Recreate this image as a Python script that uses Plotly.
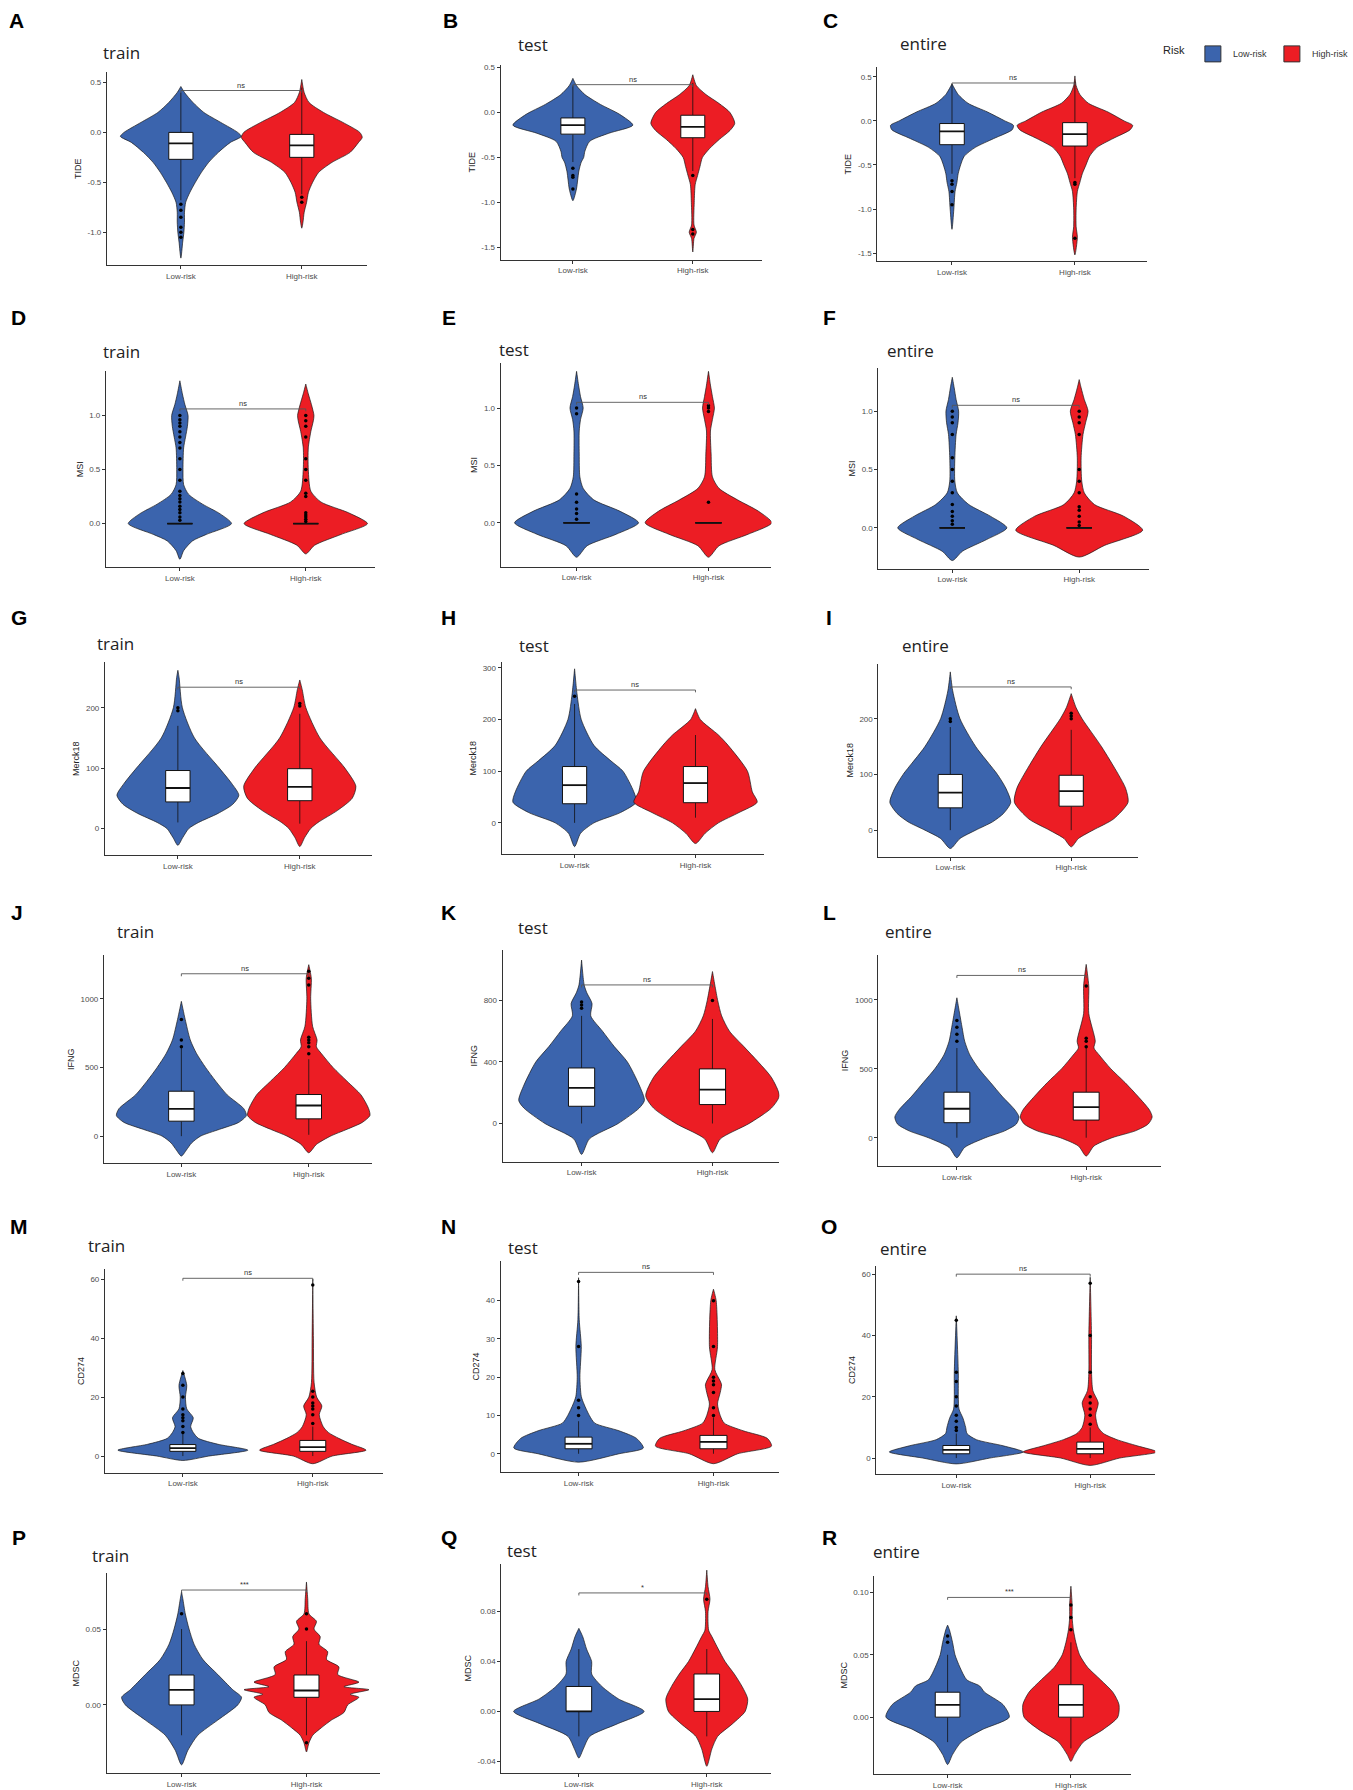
import plotly.graph_objects as go

W, H = 1353, 1790
BLUE = "#3B64AD"
RED = "#EC1D24"
CATS = ["Low-risk", "High-risk"]

# ---------------- data ----------------
# violin profiles: value levels (y) and half-widths (w, in category units)
# boxes: [lower whisker, q1, median, q3, upper whisker]
A_low_y = [-1.26, -1.1, -1.0, -0.9, -0.8, -0.7, -0.6, -0.5, -0.4, -0.3, -0.2, -0.1, -0.04, 0.0, 0.1, 0.2, 0.3, 0.4, 0.46]
A_low_w = [0, 0.015, 0.025, 0.03, 0.03, 0.04, 0.075, 0.12, 0.17, 0.23, 0.31, 0.41, 0.5, 0.47, 0.33, 0.19, 0.1, 0.03, 0]
A_high_y = [-0.96, -0.9, -0.8, -0.7, -0.6, -0.5, -0.4, -0.3, -0.2, -0.1, -0.05, 0.0, 0.1, 0.2, 0.3, 0.4, 0.53]
A_high_w = [0, 0.01, 0.02, 0.04, 0.055, 0.09, 0.14, 0.25, 0.40, 0.47, 0.5, 0.48, 0.34, 0.18, 0.06, 0.02, 0]
A_low_box = [-0.68, -0.27, -0.11, 0.0, 0.40]
A_high_box = [-0.62, -0.25, -0.13, -0.02, 0.45]
A_low_out = [-0.72, -0.78, -0.85, -0.95, -1.0, -1.05]
A_high_out = [-0.65, -0.7]
A_sig = ["ns", 0.42]

B_low_y = [-0.98, -0.85, -0.75, -0.65, -0.55, -0.5, -0.43, -0.32, -0.23, -0.14, -0.02, 0.09, 0.2, 0.3, 0.38]
B_low_w = [0, 0.03, 0.04, 0.05, 0.07, 0.09, 0.1, 0.14, 0.3, 0.5, 0.39, 0.23, 0.1, 0.03, 0]
B_high_y = [-1.55, -1.4, -1.33, -1.25, -1.0, -0.8, -0.7, -0.6, -0.5, -0.4, -0.3, -0.2, -0.12, 0.0, 0.1, 0.2, 0.3, 0.42]
B_high_w = [0, 0.01, 0.03, 0.01, 0.012, 0.02, 0.04, 0.06, 0.08, 0.14, 0.22, 0.31, 0.35, 0.31, 0.22, 0.11, 0.03, 0]
B_low_box = [-0.55, -0.24, -0.14, -0.06, 0.30]
B_high_box = [-0.65, -0.28, -0.16, -0.03, 0.33]
B_low_out = [-0.62, -0.7, -0.72, -0.85]
B_high_out = [-0.7, -1.3, -1.35]
B_sig = ["ns", 0.31]

C_low_y = [-1.23, -1.0, -0.8, -0.7, -0.6, -0.5, -0.4, -0.3, -0.2, -0.1, -0.05, 0.0, 0.1, 0.2, 0.3, 0.42]
C_low_w = [0, 0.015, 0.025, 0.04, 0.05, 0.07, 0.1, 0.19, 0.34, 0.49, 0.5, 0.43, 0.29, 0.13, 0.05, 0]
C_high_y = [-1.52, -1.32, -1.2, -1.0, -0.8, -0.7, -0.6, -0.5, -0.4, -0.3, -0.2, -0.1, -0.05, 0.0, 0.1, 0.2, 0.3, 0.4, 0.51]
C_high_w = [0, 0.02, 0.01, 0.01, 0.02, 0.04, 0.06, 0.09, 0.12, 0.18, 0.31, 0.45, 0.47, 0.40, 0.27, 0.11, 0.04, 0.01, 0]
C_low_box = [-0.6, -0.27, -0.12, -0.03, 0.42]
C_high_box = [-0.65, -0.285, -0.15, -0.02, 0.45]
C_low_out = [-0.68, -0.72, -0.8, -0.95]
C_high_out = [-0.7, -0.72, -1.33]
C_sig = ["ns", 0.43]

D_low_y = [-0.33, -0.25, -0.16, -0.1, 0.0, 0.09, 0.18, 0.27, 0.36, 0.5, 0.7, 0.8, 0.9, 1.0, 1.1, 1.2, 1.32]
D_low_w = [0, 0.03, 0.1, 0.21, 0.41, 0.32, 0.18, 0.07, 0.03, 0.025, 0.03, 0.045, 0.06, 0.065, 0.04, 0.02, 0]
D_high_y = [-0.28, -0.2, -0.1, 0.0, 0.1, 0.2, 0.3, 0.5, 0.7, 0.85, 0.95, 1.0, 1.1, 1.2, 1.29]
D_high_w = [0, 0.07, 0.28, 0.49, 0.34, 0.12, 0.04, 0.02, 0.02, 0.04, 0.06, 0.065, 0.045, 0.02, 0]
D_low_box = [0, 0, 0, 0, 0]
D_high_box = [0, 0, 0, 0, 0]
D_low_out = [0.03, 0.06, 0.1, 0.13, 0.16, 0.2, 0.23, 0.26, 0.3, 0.4, 0.5, 0.6, 0.7, 0.75, 0.8, 0.85, 0.9, 0.93, 0.96, 1.0]
D_high_out = [0.02, 0.04, 0.06, 0.08, 0.1, 0.25, 0.28, 0.4, 0.5, 0.6, 0.8, 0.9, 0.95, 1.0]
D_sig = ["ns", 1.06]

E_low_y = [-0.3, -0.2, -0.1, 0.0, 0.1, 0.2, 0.3, 0.4, 0.6, 0.8, 0.9, 1.0, 1.1, 1.2, 1.32]
E_low_w = [0, 0.08, 0.3, 0.47, 0.33, 0.13, 0.05, 0.025, 0.02, 0.02, 0.03, 0.05, 0.03, 0.015, 0]
E_high_y = [-0.3, -0.2, -0.1, 0.0, 0.1, 0.2, 0.3, 0.4, 0.6, 0.8, 0.9, 1.0, 1.1, 1.2, 1.32]
E_high_w = [0, 0.08, 0.3, 0.48, 0.38, 0.22, 0.08, 0.03, 0.02, 0.015, 0.03, 0.045, 0.03, 0.015, 0]
E_low_box = [0, 0, 0, 0, 0]
E_high_box = [0, 0, 0, 0, 0]
E_low_out = [0.03, 0.08, 0.12, 0.18, 0.25, 0.95, 1.0]
E_high_out = [0.18, 0.97, 1.0, 1.02]
E_sig = ["ns", 1.05]

F_low_y = [-0.28, -0.2, -0.1, 0.0, 0.1, 0.2, 0.3, 0.4, 0.6, 0.8, 0.9, 1.0, 1.1, 1.2, 1.29]
F_low_w = [0, 0.08, 0.27, 0.43, 0.3, 0.13, 0.04, 0.02, 0.02, 0.03, 0.045, 0.05, 0.03, 0.015, 0]
F_high_y = [-0.25, -0.15, -0.02, 0.1, 0.2, 0.3, 0.4, 0.6, 0.8, 0.9, 1.0, 1.1, 1.2, 1.27]
F_high_w = [0, 0.2, 0.5, 0.35, 0.12, 0.04, 0.02, 0.015, 0.03, 0.05, 0.07, 0.04, 0.015, 0]
F_low_box = [0, 0, 0, 0, 0]
F_high_box = [0, 0, 0, 0, 0]
F_low_out = [0.03, 0.06, 0.1, 0.14, 0.2, 0.3, 0.4, 0.5, 0.6, 0.8, 0.9, 0.95, 1.0]
F_high_out = [0.02, 0.05, 0.1, 0.15, 0.18, 0.3, 0.4, 0.5, 0.8, 0.9, 0.95, 1.0]
F_sig = ["ns", 1.05]

G_low_y = [-28, -15, 0, 10, 25, 40, 55, 75, 100, 150, 200, 250, 262]
G_low_w = [0, 0.04, 0.09, 0.17, 0.33, 0.45, 0.5, 0.44, 0.34, 0.136, 0.037, 0.01, 0]
G_high_y = [-30, -15, 0, 10, 30, 50, 70, 100, 150, 200, 230, 246]
G_high_w = [0, 0.04, 0.09, 0.15, 0.31, 0.43, 0.46, 0.37, 0.165, 0.05, 0.02, 0]
G_low_box = [10, 44, 67, 96, 170]
G_high_box = [8, 46, 69, 99, 190]
G_low_out = [195, 200]
G_high_out = [203, 207]
G_sig = ["ns", 234]

H_low_y = [-46, -20, 0, 20, 40, 60, 100, 120, 150, 200, 250, 298]
H_low_w = [0, 0.05, 0.16, 0.38, 0.51, 0.49, 0.4, 0.3, 0.16, 0.055, 0.02, 0]
H_high_y = [-40, -20, 0, 20, 40, 60, 100, 150, 170, 200, 221]
H_high_w = [0, 0.08, 0.19, 0.36, 0.51, 0.47, 0.43, 0.27, 0.19, 0.04, 0]
H_low_box = [0, 37, 73, 109, 230]
H_high_box = [10, 39, 77, 109, 170]
H_low_out = [245]
H_high_out = []
H_sig = ["ns", 257]

I_low_y = [-33, -15, 0, 15, 30, 50, 75, 100, 150, 200, 250, 284]
I_low_w = [0, 0.08, 0.21, 0.35, 0.44, 0.5, 0.46, 0.39, 0.21, 0.08, 0.02, 0]
I_high_y = [-30, -15, 0, 20, 50, 75, 100, 150, 200, 220, 245]
I_high_w = [0, 0.06, 0.18, 0.35, 0.47, 0.45, 0.39, 0.25, 0.09, 0.04, 0]
I_low_box = [0, 40, 67.5, 100, 185]
I_high_box = [0, 43, 70, 98.5, 180]
I_low_out = [195, 200]
I_high_out = [200, 205, 210]
I_sig = ["ns", 257]

J_low_y = [-145, -100, -50, 0, 50, 100, 150, 200, 300, 400, 500, 600, 700, 850, 981]
J_low_w = [0, 0.04, 0.08, 0.15, 0.3, 0.45, 0.51, 0.49, 0.36, 0.27, 0.19, 0.12, 0.07, 0.03, 0]
J_high_y = [-121, -60, 0, 50, 100, 150, 200, 300, 400, 500, 600, 650, 700, 800, 1000, 1150, 1248]
J_high_w = [0, 0.06, 0.17, 0.3, 0.42, 0.48, 0.47, 0.41, 0.3, 0.19, 0.1, 0.06, 0.065, 0.03, 0.015, 0.02, 0]
J_low_box = [0, 109, 199, 327, 640]
J_high_box = [10, 126, 223, 303, 560]
J_low_out = [650, 700, 850]
J_high_out = [600, 650, 680, 700, 720, 1100, 1150, 1200]
J_sig = ["ns", 1182]

K_low_y = [-201, -100, 0, 100, 150, 250, 400, 500, 600, 700, 780, 850, 900, 1063]
K_low_w = [0, 0.06, 0.28, 0.44, 0.48, 0.44, 0.35, 0.25, 0.16, 0.07, 0.08, 0.04, 0.02, 0]
K_high_y = [-190, -100, 0, 100, 180, 300, 400, 500, 600, 700, 800, 988]
K_high_w = [0, 0.06, 0.28, 0.45, 0.51, 0.45, 0.35, 0.24, 0.13, 0.07, 0.04, 0]
K_low_box = [0, 112, 231, 361, 700]
K_high_box = [0, 123, 220, 355, 680]
K_low_out = [750, 770, 790]
K_high_out = [800]
K_sig = ["ns", 901]

L_low_y = [-145, -70, 0, 50, 100, 150, 200, 300, 400, 500, 600, 700, 800, 1014]
L_low_w = [0, 0.06, 0.22, 0.37, 0.46, 0.48, 0.45, 0.35, 0.26, 0.17, 0.1, 0.06, 0.04, 0]
L_high_y = [-133, -60, 0, 50, 100, 150, 200, 300, 400, 500, 600, 650, 700, 900, 1100, 1256]
L_high_w = [0, 0.06, 0.2, 0.38, 0.48, 0.51, 0.49, 0.4, 0.3, 0.19, 0.1, 0.06, 0.07, 0.02, 0.02, 0]
L_low_box = [0, 109, 210, 330, 650]
L_high_box = [0, 128, 222, 330, 650]
L_low_out = [700, 750, 800, 850]
L_high_out = [660, 700, 720, 1100]
L_sig = ["ns", 1176]

M_low_y = [-1.5, 0, 2, 4, 6, 8, 10, 13, 16, 20, 24, 29]
M_low_w = [0, 0.2, 0.5, 0.27, 0.12, 0.08, 0.06, 0.08, 0.03, 0.02, 0.03, 0]
M_high_y = [-2.6, 0, 2, 4, 6, 8, 10, 14, 17, 20, 25, 40, 60]
M_high_w = [0, 0.15, 0.41, 0.3, 0.2, 0.12, 0.08, 0.05, 0.07, 0.03, 0.01, 0.005, 0]
M_low_box = [0, 1.6, 2.7, 3.9, 7.5]
M_high_box = [0, 1.6, 3.0, 5.3, 10]
M_low_out = [8, 10, 12, 13, 14, 16, 20, 24, 28]
M_high_out = [11, 14, 16, 17, 18, 20, 22, 58]
M_sig = ["ns", 60.3]

N_low_y = [-2.2, 0, 1.5, 4, 6, 8, 10, 13, 15, 20, 28, 35, 46]
N_low_w = [0, 0.3, 0.48, 0.43, 0.3, 0.12, 0.08, 0.04, 0.02, 0.01, 0.02, 0.005, 0]
N_high_y = [-2.6, 0, 2, 4, 6, 8, 10, 13, 16, 18, 19, 22, 28, 40, 43]
N_high_w = [0, 0.18, 0.43, 0.4, 0.22, 0.08, 0.05, 0.03, 0.05, 0.06, 0.05, 0.01, 0.03, 0.02, 0]
N_low_box = [0, 1.3, 2.6, 4.35, 8.5]
N_high_box = [0, 1.3, 3.1, 4.8, 9.5]
N_low_out = [10, 12, 14, 28, 45]
N_high_out = [10, 12, 16, 18, 19, 20, 28, 40]
N_sig = ["ns", 47.4]

O_low_y = [-1.9, 0, 2, 4, 6, 8, 10, 13, 16, 20, 28, 46.4]
O_low_w = [0, 0.25, 0.5, 0.35, 0.15, 0.08, 0.07, 0.05, 0.02, 0.015, 0.015, 0]
O_high_y = [-2.4, 0, 2, 4, 6, 8, 10, 14, 18, 22, 28, 40, 59]
O_high_w = [0, 0.22, 0.5, 0.35, 0.2, 0.1, 0.06, 0.04, 0.06, 0.02, 0.01, 0.01, 0]
O_low_box = [0, 1.4, 2.7, 4.1, 8]
O_high_box = [0, 1.4, 3.0, 5.2, 10]
O_low_out = [9, 10, 12, 14, 17, 20, 25, 28, 45]
O_high_out = [11, 14, 16, 18, 20, 28, 40, 57]
O_sig = ["ns", 60]

P_low_y = [-0.0395, -0.03, -0.02, -0.01, 0.0, 0.005, 0.01, 0.02, 0.03, 0.04, 0.05, 0.06, 0.07, 0.0746]
P_low_w = [0, 0.05, 0.13, 0.29, 0.45, 0.48, 0.41, 0.29, 0.17, 0.1, 0.06, 0.03, 0.01, 0]
P_high_y = [-0.031, -0.025, -0.02, -0.015, -0.01, -0.005, 0.0, 0.005, 0.007, 0.01, 0.012, 0.015, 0.02, 0.025,
            0.03, 0.035, 0.04, 0.045, 0.05, 0.055, 0.06, 0.07, 0.081]
P_high_w = [0, 0.02, 0.05, 0.12, 0.2, 0.3, 0.33, 0.42, 0.35, 0.5, 0.3, 0.42, 0.25, 0.26,
            0.16, 0.17, 0.1, 0.11, 0.06, 0.08, 0.02, 0.01, 0]
P_low_box = [-0.02, 0.0, 0.0099, 0.0197, 0.05]
P_high_box = [-0.02, 0.005, 0.0095, 0.0197, 0.042]
P_low_out = [0.06]
P_high_out = [0.05, 0.06, -0.025]
P_sig = ["***", 0.0757]

Q_low_y = [-0.0374, -0.03, -0.02, -0.01, 0.0, 0.01, 0.02, 0.03, 0.04, 0.05, 0.06, 0.0666]
Q_low_w = [0, 0.035, 0.085, 0.3, 0.51, 0.31, 0.18, 0.1, 0.1, 0.06, 0.03, 0]
Q_high_y = [-0.044, -0.03, -0.02, -0.01, 0.0, 0.01, 0.02, 0.03, 0.04, 0.05, 0.06, 0.065, 0.08, 0.09, 0.1, 0.1133]
Q_high_w = [0, 0.04, 0.085, 0.2, 0.3, 0.32, 0.276, 0.215, 0.143, 0.09, 0.04, 0.015, 0.01, 0.025, 0.01, 0]
Q_low_box = [-0.02, 0.0, 0.0, 0.02, 0.05]
Q_high_box = [-0.02, 0.0, 0.0099, 0.03, 0.05]
Q_low_out = []
Q_high_out = [0.09]
Q_sig = ["*", 0.095]

R_low_y = [-0.038, -0.03, -0.02, -0.01, 0.0, 0.01, 0.02, 0.025, 0.03, 0.04, 0.05, 0.06, 0.07, 0.0738]
R_low_w = [0, 0.04, 0.11, 0.28, 0.5, 0.45, 0.3, 0.26, 0.155, 0.1, 0.06, 0.04, 0.015, 0]
R_high_y = [-0.0355, -0.03, -0.02, -0.01, 0.0, 0.01, 0.02, 0.03, 0.04, 0.05, 0.06, 0.07, 0.08, 0.09, 0.105]
R_high_w = [0, 0.03, 0.1, 0.26, 0.38, 0.39, 0.34, 0.24, 0.135, 0.07, 0.04, 0.02, 0.01, 0.01, 0]
R_low_box = [-0.02, 0.0, 0.0098, 0.02, 0.05]
R_high_box = [-0.025, 0.0, 0.0098, 0.026, 0.06]
R_low_out = [0.06, 0.065]
R_high_out = [0.07, 0.08, 0.09]
R_sig = ["***", 0.096]

# panel texts and y ticks
TITLES = {"A": "train", "B": "test", "C": "entire", "D": "train", "E": "test", "F": "entire",
          "G": "train", "H": "test", "I": "entire", "J": "train", "K": "test", "L": "entire",
          "M": "train", "N": "test", "O": "entire", "P": "train", "Q": "test", "R": "entire"}
YTITLES = {"A": "TIDE", "B": "TIDE", "C": "TIDE", "D": "MSI", "E": "MSI", "F": "MSI",
           "G": "Merck18", "H": "Merck18", "I": "Merck18", "J": "IFNG", "K": "IFNG", "L": "IFNG",
           "M": "CD274", "N": "CD274", "O": "CD274", "P": "MDSC", "Q": "MDSC", "R": "MDSC"}
YTICKS = {"A": ["-1.0", "-0.5", "0.0", "0.5"], "B": ["-1.5", "-1.0", "-0.5", "0.0", "0.5"],
          "C": ["-1.5", "-1.0", "-0.5", "0.0", "0.5"], "D": ["0.0", "0.5", "1.0"],
          "E": ["0.0", "0.5", "1.0"], "F": ["0.0", "0.5", "1.0"], "G": ["0", "100", "200"],
          "H": ["0", "100", "200", "300"], "I": ["0", "100", "200"], "J": ["0", "500", "1000"],
          "K": ["0", "400", "800"], "L": ["0", "500", "1000"], "M": ["0", "20", "40", "60"],
          "N": ["0", "10", "20", "30", "40"], "O": ["0", "20", "40", "60"], "P": ["0.00", "0.05"],
          "Q": ["-0.04", "0.00", "0.04", "0.08"], "R": ["0.00", "0.05", "0.10"]}

# ---------------- layout geometry (pixels) ----------------
GEOM = {
    "A": dict(x0=107, x1=367, pL=181, pH=302, yt=70, yb=264, yr=(-1.333, 0.607), lab=(17, 19), tit=(101, 51)),
    "B": dict(x0=501, x1=763, pL=573.3, pH=693.3, yt=63, yb=258.3, yr=(-1.636, 0.53), lab=(451, 19), tit=(516, 43)),
    "C": dict(x0=878, x1=1148, pL=952.7, pH=1075.7, yt=65, yb=260, yr=(-1.594, 0.613), lab=(831, 19), tit=(899, 42)),
    "D": dict(x0=106, x1=375, pL=180, pH=306, yt=370, yb=566.7, yr=(-0.405, 1.409), lab=(19, 316), tit=(101, 350)),
    "E": dict(x0=501, x1=772, pL=577, pH=709, yt=362, yb=566, yr=(-0.383, 1.391), lab=(449, 316), tit=(497, 348)),
    "F": dict(x0=879, x1=1150, pL=953, pH=1080, yt=367, yb=568, yr=(-0.35, 1.368), lab=(830, 316), tit=(886, 349)),
    "G": dict(x0=105, x1=372, pL=178, pH=300, yt=661.7, yb=855, yr=(-44.1, 275.4), lab=(19, 617), tit=(95, 643)),
    "H": dict(x0=502, x1=765, pL=575, pH=696, yt=661.7, yb=854, yr=(-60.4, 310.8), lab=(449, 617), tit=(517, 645)),
    "I": dict(x0=879, x1=1139, pL=951, pH=1072, yt=663.3, yb=856.7, yr=(-47.8, 298.5), lab=(830, 617), tit=(901, 645)),
    "J": dict(x0=104, x1=372, pL=181.5, pH=309, yt=955, yb=1164, yr=(-198.3, 1319.5), lab=(17, 913), tit=(115, 932)),
    "K": dict(x0=503, x1=780, pL=582, pH=713, yt=950, yb=1162.3, yr=(-248.5, 1129), lab=(449, 913), tit=(516, 928)),
    "L": dict(x0=879, x1=1162, pL=957.6, pH=1087, yt=955, yb=1166.7, yr=(-205.4, 1325), lab=(830, 913), tit=(884, 932)),
    "M": dict(x0=105, x1=383, pL=183, pH=313, yt=1270, yb=1474, yr=(-5.65, 63.4), lab=(19, 1227), tit=(86, 1246)),
    "N": dict(x0=501, x1=780, pL=579, pH=714, yt=1261.7, yb=1473.3, yr=(-4.77, 50.4), lab=(449, 1227), tit=(506, 1248)),
    "O": dict(x0=877, x1=1156, pL=957, pH=1091, yt=1266.7, yb=1475.3, yr=(-5.2, 62.7), lab=(830, 1227), tit=(879, 1249)),
    "P": dict(x0=106.7, x1=380, pL=181.7, pH=306.7, yt=1575, yb=1775, yr=(-0.0449, 0.0866), lab=(19, 1539), tit=(90, 1557)),
    "Q": dict(x0=501.7, x1=771.7, pL=579.3, pH=707.3, yt=1565, yb=1775, yr=(-0.0494, 0.1186), lab=(449, 1539), tit=(505, 1552)),
    "R": dict(x0=875, x1=1131.7, pL=948.3, pH=1071.7, yt=1578, yb=1776, yr=(-0.0456, 0.1128), lab=(830, 1539), tit=(872, 1553)),
}

DATA = {k: dict(ly=globals()[k + "_low_y"], lw=globals()[k + "_low_w"],
                hy=globals()[k + "_high_y"], hw=globals()[k + "_high_w"],
                lb=globals()[k + "_low_box"], hb=globals()[k + "_high_box"],
                lo=globals()[k + "_low_out"], ho=globals()[k + "_high_out"],
                sig=globals()[k + "_sig"]) for k in GEOM}

BOX_HW = 0.1
TICKFONT = dict(family="Liberation Sans, Arial", size=8, color="#4D4D4D")
fig = go.Figure()
annotations = []
layout_axes = {}


def violin_xy(center, ys, ws):
    xs = [center - w for w in ws] + [center + w for w in reversed(ws)]
    yy = list(ys) + list(reversed(ys))
    return xs, yy


def add_line(x, y, xa, ya, color, width):
    fig.add_trace(go.Scatter(x=x, y=y, mode="lines", line=dict(color=color, width=width),
                             hoverinfo="skip", showlegend=False, xaxis=xa, yaxis=ya))


for i, key in enumerate(GEOM, start=1):
    g = GEOM[key]
    d = DATA[key]
    xa = "x" if i == 1 else f"x{i}"
    ya = "y" if i == 1 else f"y{i}"
    s = g["pH"] - g["pL"]
    xr = (1 - (g["pL"] - g["x0"]) / s, 2 + (g["x1"] - g["pH"]) / s)

    for center, ys, ws, color, box, outs in [
        (1, d["ly"], d["lw"], BLUE, d["lb"], d["lo"]),
        (2, d["hy"], d["hw"], RED, d["hb"], d["ho"]),
    ]:
        vx, vy = violin_xy(center, ys, ws)
        fig.add_trace(go.Scatter(x=vx, y=vy, mode="lines", fill="toself", fillcolor=color,
                                 line=dict(color="#1a1a1a", width=0.7, shape="spline", smoothing=0.7),
                                 hoverinfo="skip", showlegend=False, xaxis=xa, yaxis=ya))
        lo, q1, med, q3, hi = box
        # whiskers
        add_line([center, center, None, center, center], [lo, q1, None, q3, hi], xa, ya, "#111111", 0.8)
        # box body
        fig.add_trace(go.Scatter(x=[center - BOX_HW, center + BOX_HW, center + BOX_HW, center - BOX_HW, center - BOX_HW],
                                 y=[q1, q1, q3, q3, q1], mode="lines", fill="toself", fillcolor="white",
                                 line=dict(color="#111111", width=1), hoverinfo="skip",
                                 showlegend=False, xaxis=xa, yaxis=ya))
        # median
        add_line([center - BOX_HW, center + BOX_HW], [med, med], xa, ya, "#111111", 1.8)
        if outs:
            fig.add_trace(go.Scatter(x=[center] * len(outs), y=outs, mode="markers",
                                     marker=dict(size=3.5, color="black"), hoverinfo="skip",
                                     showlegend=False, xaxis=xa, yaxis=ya))

    # significance bracket
    label, yb = d["sig"]
    tip = 0.012 * (g["yr"][1] - g["yr"][0])
    add_line([1, 1, 2, 2], [yb - tip, yb, yb, yb - tip], xa, ya, "#555555", 0.9)
    annotations.append(dict(x=1.5, y=yb, xref=xa, yref=ya, text=label, showarrow=False,
                            yanchor="bottom", yshift=-1,
                            font=dict(family="Liberation Sans, Arial", size=7.5, color="#333333")))

    tickvals = [float(t) for t in YTICKS[key]]
    layout_axes["xaxis" if i == 1 else f"xaxis{i}"] = dict(
        domain=[g["x0"] / W, g["x1"] / W], range=list(xr), anchor=ya,
        tickvals=[1, 2], ticktext=CATS, showline=True, linecolor="#333333", linewidth=1,
        ticks="outside", ticklen=3, tickcolor="#333333", showgrid=False, zeroline=False,
        tickfont=TICKFONT, fixedrange=True)
    layout_axes["yaxis" if i == 1 else f"yaxis{i}"] = dict(
        domain=[1 - g["yb"] / H, 1 - g["yt"] / H], range=list(g["yr"]), anchor=xa,
        tickvals=tickvals, ticktext=YTICKS[key], showline=True, linecolor="#333333", linewidth=1,
        ticks="outside", ticklen=3, tickcolor="#333333", showgrid=False, zeroline=False,
        tickfont=TICKFONT, title=dict(text=YTITLES[key], standoff=4,
                                      font=dict(family="Liberation Sans, Arial", size=9, color="#222222")),
        fixedrange=True)

    lx, ly = g["lab"]
    annotations.append(dict(x=lx / W, y=1 - ly / H, xref="paper", yref="paper", text=f"<b>{key}</b>",
                            showarrow=False, xanchor="center", yanchor="middle",
                            font=dict(family="Liberation Sans, Arial", size=21, color="black")))
    tx, ty = g["tit"]
    annotations.append(dict(x=tx / W, y=1 - ty / H, xref="paper", yref="paper", text=TITLES[key],
                            showarrow=False, xanchor="left", yanchor="middle",
                            font=dict(family="Open Sans, Noto Sans", size=17, color="#222222")))

# legend entries
for name, color in zip(CATS, [BLUE, RED]):
    fig.add_trace(go.Scatter(x=[None], y=[None], mode="markers", name=name,
                             marker=dict(symbol="square", size=16, color=color,
                                         line=dict(color="#333333", width=1)),
                             showlegend=True, xaxis="x", yaxis="y"))

fig.update_layout(
    width=W, height=H, margin=dict(l=0, r=0, t=0, b=0),
    paper_bgcolor="white", plot_bgcolor="white", showlegend=True,
    legend=dict(orientation="h", x=1162 / W, y=1 - 52 / H, xanchor="left", yanchor="middle",
                title=dict(text="Risk", side="left", font=dict(family="Liberation Sans, Arial", size=11, color="#222")),
                font=dict(family="Liberation Sans, Arial", size=9, color="#333"),
                itemwidth=30, tracegroupgap=0, bgcolor="rgba(0,0,0,0)"),
    annotations=annotations,
    **layout_axes,
)

fig.write_html("out.html")
